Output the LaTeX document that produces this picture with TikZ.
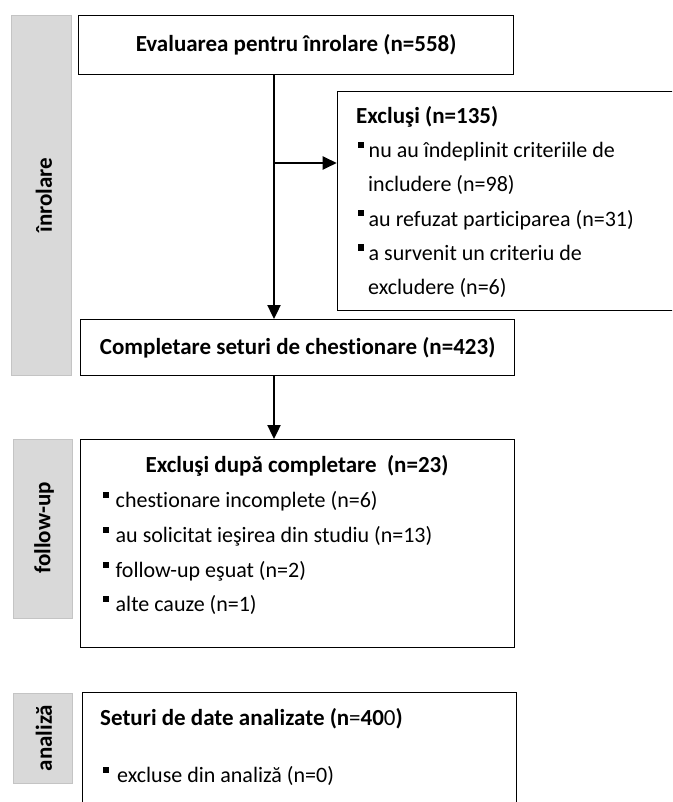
\documentclass[tikz,border=0pt]{standalone}
\usepackage{fontspec}
\setmainfont{Carlito}[Ligatures={NoCommon}]
\usetikzlibrary{arrows.meta}
\definecolor{sidefill}{HTML}{D9D9D9}
\definecolor{sidedraw}{HTML}{C4C4C4}
\newcommand{\sqb}[1]{\raisebox{9.5pt}{\rule{6pt}{6pt}}\hspace{#1}}
\newcommand{\bfont}{\fontsize{23}{27}\selectfont\bfseries}
\begin{document}
\begin{tikzpicture}[x=1pt,y=-1pt,
  box/.style={draw=black, line width=1.3pt, fill=white, anchor=north west, inner sep=0pt},
  side/.style={draw=sidedraw, fill=sidefill, line width=1pt, anchor=north west, inner sep=0pt},
  sidelabel/.style={rotate=90, inner sep=0pt, font=\bfont},
  txt/.style={anchor=base west, inner sep=0pt, font=\fontsize{22}{26}\selectfont},
  ttl/.style={anchor=base west, inner sep=0pt, font=\bfont},
  arr/.style={line width=2.4pt, -{Triangle[length=14pt,width=13pt]}},
]
\useasboundingbox (0,0) rectangle (672,802);
\clip (0,0) rectangle (672,802);
% side bars
\node[side, minimum width=60pt, minimum height=360pt] (s1) at (11,15) {};
\node[side, minimum width=59.5pt, minimum height=179pt] (s2) at (12.5,439) {};
\node[side, minimum width=59.3pt, minimum height=90pt] (s3) at (12.7,693) {};
\node[sidelabel] (l1) at (44,195) {înrolare};
\node[sidelabel] (l2) at (44,528) {follow-up};
\node[sidelabel] (l3) at (44,738) {analiză};
% boxes
\node[box, minimum width=435pt, minimum height=59pt, font=\bfont] (eval) at (78,15) {Evaluarea pentru înrolare (n=558)};
\node[box, minimum width=434pt, minimum height=56pt, font=\bfont] (comp) at (80,319) {Completare seturi de chestionare (n=423)};
\node[box, minimum width=350pt, minimum height=219pt] (exc) at (336.7,91) {};
\node[box, minimum width=434pt, minimum height=208pt] (fu) at (80,439) {};
\node[box, minimum width=434.5pt, minimum height=140pt] (set) at (81.5,692) {};
% exclusi text
\node[ttl] (e0) at (356,124) {Excluşi (n=135)};
\node[txt] (e1) at (358,158) {\sqb{4.5pt}nu au îndeplinit criteriile de};
\node[txt] (e2) at (368,192) {includere (n=98)};
\node[txt] (e3) at (358,226) {\sqb{4.5pt}au refuzat participarea (n=31)};
\node[txt] (e4) at (358,260) {\sqb{4.5pt}a survenit un criteriu de};
\node[txt] (e5) at (368,294) {excludere (n=6)};
% follow-up text
\node[anchor=base, inner sep=0pt, font=\bfont] (f0) at (297,472) {Excluşi după completare\ \ (n=23)};
\node[txt] (f1) at (103,507) {\sqb{6.5pt}chestionare incomplete (n=6)};
\node[txt] (f2) at (103,542) {\sqb{6.5pt}au solicitat ieşirea din studiu (n=13)};
\node[txt] (f3) at (103,577) {\sqb{6.5pt}follow-up eşuat (n=2)};
\node[txt] (f4) at (103,611) {\sqb{6.5pt}alte cauze (n=1)};
% analiza text
\node[ttl] (a0) at (100,725) {Seturi de date analizate (n{\mdseries=}40{\mdseries 0})};
\node[txt] (a1) at (103,782) {\sqb{8pt}excluse din analiză (n=0)};
% connectors
\coordinate (br) at (274,163);
\draw[arr] (eval.south -| br) -- (comp.north -| br);
\draw[arr] (br) -- (exc.west |- br);
\draw[arr] (comp.south -| br) -- (fu.north -| br);
\end{tikzpicture}
\end{document}
